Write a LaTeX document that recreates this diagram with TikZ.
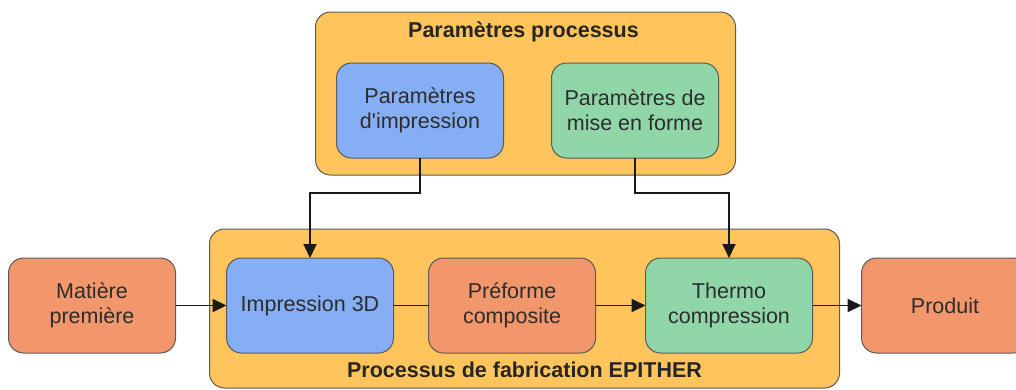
\documentclass[tikz,border=0pt]{standalone}
\usepackage{fontspec}
\setmainfont{Liberation Sans}
\usepackage{tikz}
\usetikzlibrary{
  arrows.meta,
  positioning,
  fit,
  calc,
  backgrounds
}
\definecolor{epiorange}{RGB}{255,196,92}
\definecolor{epiblue}{RGB}{133,174,245}
\definecolor{epigreen}{RGB}{144,214,168}
\definecolor{episalmon}{RGB}{242,150,108}
\definecolor{epiborder}{RGB}{90,90,90}
\definecolor{epitext}{RGB}{45,45,45}
\definecolor{epiline}{RGB}{25,25,25}
\tikzset{
  procbox/.style={
    rectangle, rounded corners=15pt, draw=epiborder, line width=1pt,
    minimum width=167pt, minimum height=95pt, inner sep=2pt, outer sep=0pt,
    align=center, text=epitext, font=\fontsize{21.5}{25.3}\selectfont
  },
  boxB/.style={procbox, fill=epiblue},
  boxG/.style={procbox, fill=epigreen},
  boxS/.style={procbox, fill=episalmon},
  groupbox/.style={
    rectangle, rounded corners=15pt, draw=epiborder, line width=1pt,
    fill=epiorange, inner sep=0pt, outer sep=0pt
  },
  grouptitle/.style={
    font=\bfseries\fontsize{21.5}{25.3}\selectfont, text=black!85
  },
  arrow/.style={-{Triangle[length=14pt,width=13pt]}, line width=1.8pt, color=epiline},
  flowline/.style={line width=1.8pt, color=epiline}
}

\begin{document}
\begin{tikzpicture}[x=1pt, y=1pt]
\useasboundingbox (0,0) rectangle (1016,-389);

\node[boxS] (matiere) at (92,-305.5) {Matière\\première};
\node[boxB, right=51pt of matiere] (impr) {Impression 3D};
\node[boxS, right=35pt of impr] (preforme) {Préforme\\composite};
\node[boxG, right=50pt of preforme] (thermo) {Thermo\\compression};
\node[boxS, right=49pt of thermo] (produit) {Produit};

\node[boxB, above=100pt of impr, xshift=110pt] (pimpr) {Paramètres\\d\textquotesingle impression};
\node[boxG, right=48pt of pimpr] (pmise) {Paramètres de\\mise en forme};

\begin{scope}[on background layer]
  \node[groupbox, fit={($(pimpr.north west)+(-21,51)$) ($(pmise.south east)+(17,-17)$)}]
    (gparam) {};
  \node[groupbox, fit={($(impr.north west)+(-17,29)$) ($(thermo.south east)+(27,-35)$)}]
    (gfab) {};
\end{scope}

\node[grouptitle, anchor=base] (tparam) at ($(gparam.north)+(-2,-25)$) {Paramètres processus};
\node[grouptitle, anchor=base] (tfab) at ($(gfab.south)+(0,11)$) {Processus de fabrication EPITHER};

\draw[arrow] (pimpr.south) -- ++(0,-35) -| (impr.north);
\draw[arrow] (pmise.south) -- ++(0,-35) -| (thermo.north);
\draw[arrow] (matiere) -- (impr);
\draw[flowline] (impr) -- (preforme);
\draw[arrow] (preforme) -- (thermo);
\draw[arrow] (thermo) -- (produit);
\end{tikzpicture}
\end{document}
